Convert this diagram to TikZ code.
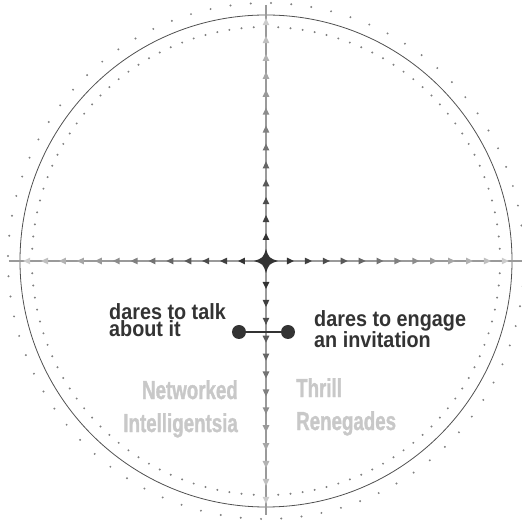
\documentclass[tikz,border=0pt]{standalone}
\usepackage{fontspec}
\setmainfont{Liberation Sans}
\newfontfamily\condfont{Liberation Sans Bold}[FakeStretch=0.72, FakeBold=1.2]
\newfontfamily\darefont{Liberation Sans Bold}[FakeStretch=0.9]
\usepackage{xcolor}
\usepackage{tikz}
\usetikzlibrary{positioning}

\definecolor{inkgray}{HTML}{333333}
\definecolor{labelgray}{HTML}{C8C8C8}
\definecolor{axisgray}{HTML}{9A9A9A}
\definecolor{ringgray}{HTML}{505050}
\definecolor{dotgray}{HTML}{808080}

\begin{document}
\begin{tikzpicture}[
  x=1pt, y=1pt,
  axis/.style={draw=axisgray, line width=1.3pt},
  ring/.style={draw=ringgray, line width=0.8pt},
  knob/.style={circle, fill=inkgray, inner sep=0pt, minimum size=14pt},
  dare/.style={inner sep=0pt, align=left, text=inkgray,
    font=\darefont\fontsize{22}{17}\selectfont},
  group/.style={inner sep=0pt, text=labelgray,
    font=\condfont\fontsize{26}{33}\selectfont}
]
\useasboundingbox (-266,-260) rectangle (256,261);

% rings
\draw[ring] (0,0) circle (246);
\foreach \i in {0,...,119}
  \fill[dotgray] (3*\i:234) circle (1.1);
\foreach \i in {0,...,79}
  \fill[dotgray] (3.4+4.5*\i:258) circle (1.1);

% axes
\coordinate (c) at (0,0);
\coordinate (west) at (-257,0);
\coordinate (east) at (256,0);
\coordinate (north) at (0,256);
\coordinate (south) at (0,-254);
\draw[axis] (west) -- (east);
\draw[axis] (north) -- (south);

% arrowheads, fading outwards
\foreach \k [evaluate=\k as \c using 80-5*\k,
             evaluate=\k as \d using 24+17.9*\k] in {0,...,12}
  \foreach \ang in {0,90,180,270}
    \fill[black!\c, rotate=\ang] (\d+4,0) -- (\d-3,3.4) -- (\d-3,-3.4) -- cycle;

% centre star
\fill[inkgray] (12,0) .. controls (3,3) .. (0,12) .. controls (-3,3) .. (-12,0)
  .. controls (-3,-3) .. (0,-12) .. controls (3,-3) .. cycle;

% dumbbell
\node[knob] (talk) at (-27,-71) {};
\node[knob] (engage) at (22,-71) {};
\draw[inkgray, line width=1.6pt] (talk) -- (engage);

\node[dare, anchor=north west] (talktext) at (-157,-42) {dares to talk\\about it};
\node[dare, anchor=north west] (engagetext) at (48,-49) {dares to engage\\an invitation};

% groups
\node[group, anchor=north east, align=right] (intel) at (-28,-119) {Networked\\Intelligentsia};
\node[group, anchor=north west, align=left] (thrill) at (30,-117) {Thrill\\Renegades};
\end{tikzpicture}
\end{document}
